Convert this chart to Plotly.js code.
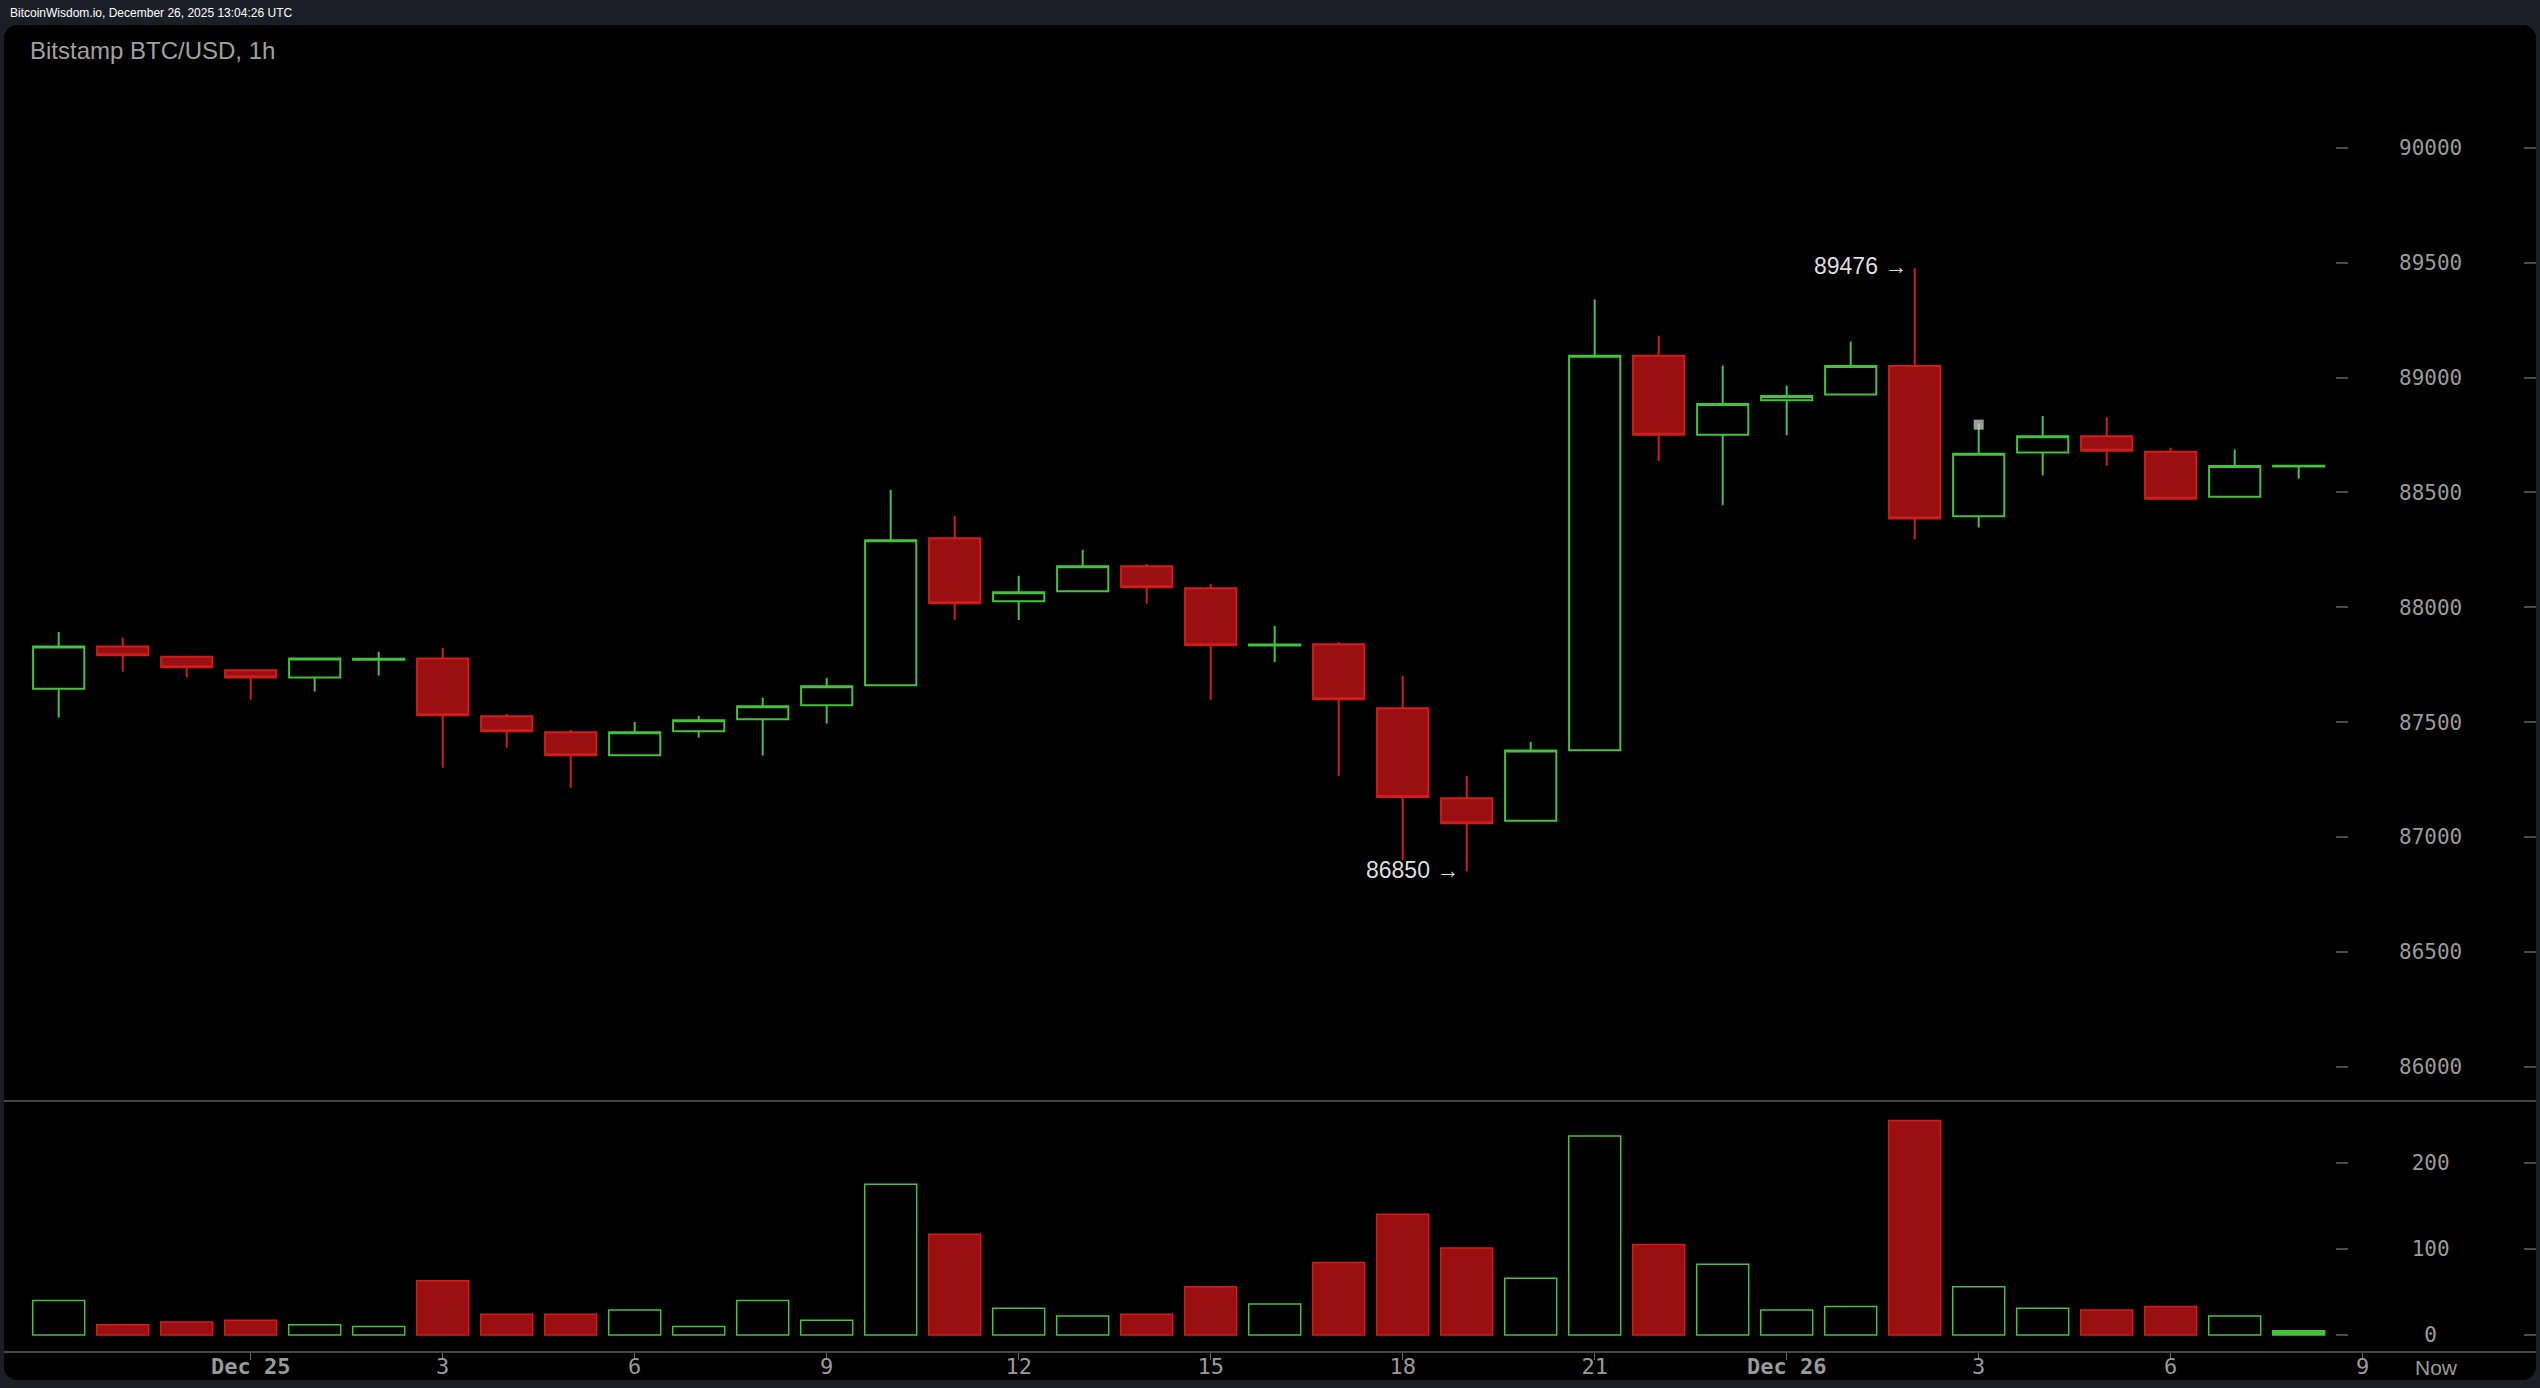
<!DOCTYPE html>
<html><head><meta charset="utf-8">
<script src="https://cdn.plot.ly/plotly-3.0.1.min.js"></script>
<style>
html,body{margin:0;padding:0;background:#1b1e26;width:2540px;height:1388px;overflow:hidden;}
#hdr{position:absolute;left:10px;top:6px;font:12px 'Liberation Sans',Arial,sans-serif;color:#ffffff;white-space:nowrap;}
#panel{position:absolute;left:4px;top:25px;width:2532px;height:1355px;background:#000;border-radius:14px;overflow:hidden;}
#chart{width:2532px;height:1355px;}
</style></head><body>
<div id="hdr">BitcoinWisdom.io, December 26, 2025 13:04:26 UTC</div>
<div id="panel"><div id="chart"></div></div>
<script>
// ---- data (hourly candles, Bitstamp BTC/USD) ----
const times = [
 '2025-12-24 21:00','2025-12-24 22:00','2025-12-24 23:00',
 '2025-12-25 00:00','2025-12-25 01:00','2025-12-25 02:00','2025-12-25 03:00','2025-12-25 04:00','2025-12-25 05:00',
 '2025-12-25 06:00','2025-12-25 07:00','2025-12-25 08:00','2025-12-25 09:00','2025-12-25 10:00','2025-12-25 11:00',
 '2025-12-25 12:00','2025-12-25 13:00','2025-12-25 14:00','2025-12-25 15:00','2025-12-25 16:00','2025-12-25 17:00',
 '2025-12-25 18:00','2025-12-25 19:00','2025-12-25 20:00','2025-12-25 21:00','2025-12-25 22:00','2025-12-25 23:00',
 '2025-12-26 00:00','2025-12-26 01:00','2025-12-26 02:00','2025-12-26 03:00','2025-12-26 04:00','2025-12-26 05:00',
 '2025-12-26 06:00','2025-12-26 07:00','2025-12-26 08:00'
];
const openP  = [87645,87829,87785,87726,87695,87772,87777,87526,87456,87356,87460,87513,87574,87661,88301,88026,88070,88179,88083,87834,87839,87561,87169,87071,87378,89095,88751,88901,88926,89050,88396,88674,88745,88677,88481,88613];
const highP  = [87893,87867,87790,87730,87777,87806,87823,87536,87466,87501,87527,87606,87693,88511,88398,88137,88250,88189,88102,87919,87848,87702,87266,87414,89340,89182,89052,88965,89157,89476,88800,88833,88827,88695,88687,88617];
const lowP   = [87520,87720,87694,87598,87633,87703,87302,87389,87215,87356,87433,87355,87494,87661,87945,87945,88070,88015,87597,87762,87266,86900,86850,87071,87378,88637,88444,88749,88926,88295,88347,88574,88617,88473,88481,88559];
const closeP = [87829,87791,87739,87694,87777,87776,87530,87460,87356,87456,87508,87569,87656,88292,88018,88066,88179,88087,87835,87838,87600,87174,87060,87377,89095,88751,88885,88920,89050,88386,88668,88745,88681,88473,88615,88616];
const volume = [40,12,15,17,12,10,63,24,24,29,10,40,17,175,117,31,22,24,56,36,84,140,101,66,231,105,82,29,33,249,56,31,29,33,22,5];

const markTimes  = ['2025-12-26 03:00'];
const markPrices = [88795];

const xTickVals = ['2025-12-25 00:00','2025-12-25 03:00','2025-12-25 06:00','2025-12-25 09:00','2025-12-25 12:00','2025-12-25 15:00',
                   '2025-12-25 18:00','2025-12-25 21:00','2025-12-26 00:00','2025-12-26 03:00','2025-12-26 06:00','2025-12-26 09:00'];
const xTickText = ['Dec 25','3','6','9','12','15','18','21','Dec 26','3','6','9'];
const priceTicks = [86000,86500,87000,87500,88000,88500,89000,89500,90000];
const priceTickText = ['86000','86500','87000','87500','88000','88500','89000','89500','90000'];
const volTicks = [0,100,200];
const volTickText = ['0','100','200'];

// ---- styling ----
const GREEN = '#45c23b';
const RED_LINE = '#d11c1c';
const RED_FILL = '#9a1012';
const AX = '#9a9a9a';
const TICKC = '#4a4a4a';

const isUp = closeP.map((c,i)=> c >= openP[i]);
const volFill = isUp.map((u,i) => u ? (volume[i] < 8 ? GREEN : 'rgba(0,0,0,0)') : RED_FILL);
const volLine = isUp.map(u => u ? GREEN : RED_LINE);

const pad5 = s => { const n = 5 - s.length; const l = Math.floor(n/2); return '\u00a0'.repeat(l) + s; };

let hiIdx = 0, loIdx = 0;
highP.forEach((v,i)=>{ if (v > highP[hiIdx]) hiIdx = i; });
lowP.forEach((v,i)=>{ if (v < lowP[loIdx]) loIdx = i; });

const W = 2532, H = 1355;
const plotH = 1326;
const split = (plotH - 1077) / plotH;
const labelAxisPos = 2344 / W;
const priceRange = [85846.8, 90534.5];
const volRange = [-18.57, 270.4];

const traces = [
  {
    type:'candlestick', x: times, open: openP, high: highP, low: lowP, close: closeP,
    xaxis:'x', yaxis:'y', whiskerwidth:0, line:{width:2},
    increasing:{line:{color:GREEN,width:2}, fillcolor:'#000000'},
    decreasing:{line:{color:RED_LINE,width:2}, fillcolor:RED_FILL},
    showlegend:false, hoverinfo:'x+y'
  },
  {
    type:'bar', x: times, y: volume, xaxis:'x', yaxis:'y2', width: 2925000,
    marker:{color: volFill, line:{color: volLine, width:1.5}}, showlegend:false
  },
  {
    type:'scatter', mode:'markers', x: markTimes, y: markPrices, xaxis:'x', yaxis:'y',
    marker:{symbol:'square', size:10, color:'rgba(205,205,205,0.75)'}, showlegend:false, hoverinfo:'skip'
  },
  // invisible helpers so the label axes are drawn
  { type:'scatter', mode:'markers', x:[times[0]], y:[priceTicks[0]], xaxis:'x', yaxis:'y3',
    marker:{opacity:0, size:1}, showlegend:false, hoverinfo:'skip' },
  { type:'scatter', mode:'markers', x:[times[0]], y:[volTicks[0]], xaxis:'x', yaxis:'y4',
    marker:{opacity:0, size:1}, showlegend:false, hoverinfo:'skip' }
];

const tickFont = {family:'DejaVu Sans Mono, monospace', size:21, color:AX};

const layout = {
  width: W, height: H,
  margin:{l:0, r:0, t:0, b:H-plotH},
  paper_bgcolor:'#000000', plot_bgcolor:'#000000',
  showlegend:false,
  boxgap:0.2, boxgroupgap:0,
  bargap:0,
  title:{text:'Bitstamp BTC/USD, 1h', font:{family:'Liberation Sans, Arial, sans-serif', size:24, color:'#a0a0a0'},
         x:26/W, xref:'container', xanchor:'left', y:1-26/H, yref:'container', yanchor:'middle'},
  xaxis:{
    type:'date', range:['2025-12-24 20:08:43','2025-12-26 11:42:28'], anchor:'y2', domain:[0,1],
    showline:true, linecolor:'#454545', linewidth:2, mirror:true,
    ticks:'outside', ticklen:7, tickwidth:1, tickcolor:'#666',
    tickvals: xTickVals, ticktext: xTickText.map(t => t.startsWith('Dec') ? '<b>'+t+'</b>' : t),
    tickfont:{family:'DejaVu Sans Mono, monospace', size:22, color:AX},
    ticklabelstandoff:-12,
    showgrid:false, zeroline:false, rangeslider:{visible:false}, fixedrange:true
  },
  yaxis:{
    domain:[split,1], range:priceRange, side:'right', anchor:'x',
    ticks:'inside', ticklen:12, tickwidth:2, tickcolor:TICKC, tickvals: priceTicks,
    showticklabels:false, showgrid:false, zeroline:false, showline:false, fixedrange:true
  },
  yaxis3:{
    overlaying:'y', anchor:'free', position: labelAxisPos, side:'right', range:priceRange,
    ticks:'inside', ticklen:12, tickwidth:2, tickcolor:TICKC, tickvals: priceTicks, ticktext: priceTickText,
    tickfont: tickFont, ticklabelstandoff: 50,
    showgrid:false, zeroline:false, showline:false, fixedrange:true
  },
  yaxis2:{
    domain:[0,split], range:volRange, side:'right', anchor:'x',
    ticks:'inside', ticklen:12, tickwidth:2, tickcolor:TICKC, tickvals: volTicks,
    showticklabels:false, showgrid:false, zeroline:false, showline:false, fixedrange:true
  },
  yaxis4:{
    overlaying:'y2', anchor:'free', position: labelAxisPos, side:'right', range:volRange,
    ticks:'inside', ticklen:12, tickwidth:2, tickcolor:TICKC, tickvals: volTicks, ticktext: volTickText.map(pad5),
    tickfont: tickFont, ticklabelstandoff: 50,
    showgrid:false, zeroline:false, showline:false, fixedrange:true
  },
  annotations:[
    {x: times[hiIdx], y: highP[hiIdx], xref:'x', yref:'y', text: highP[hiIdx] + ' \u2192', showarrow:false,
     xanchor:'right', yanchor:'middle', xshift:-6, yshift:2, font:{family:'Liberation Sans, Arial, sans-serif', size:23, color:'#dddddd'}},
    {x: times[loIdx], y: lowP[loIdx], xref:'x', yref:'y', text: lowP[loIdx] + ' \u2192', showarrow:false,
     xanchor:'right', yanchor:'middle', xshift:-6, yshift:2, font:{family:'Liberation Sans, Arial, sans-serif', size:23, color:'#dddddd'}},
    {x: 2432/W, y: -(1342.5-plotH)/plotH, xref:'paper', yref:'paper', text:'Now', showarrow:false,
     xanchor:'center', yanchor:'middle', font:{family:'Liberation Sans, Arial, sans-serif', size:21, color:AX}}
  ]
};

Plotly.newPlot('chart', traces, layout, {displayModeBar:false, staticPlot:true});
</script></body></html>
